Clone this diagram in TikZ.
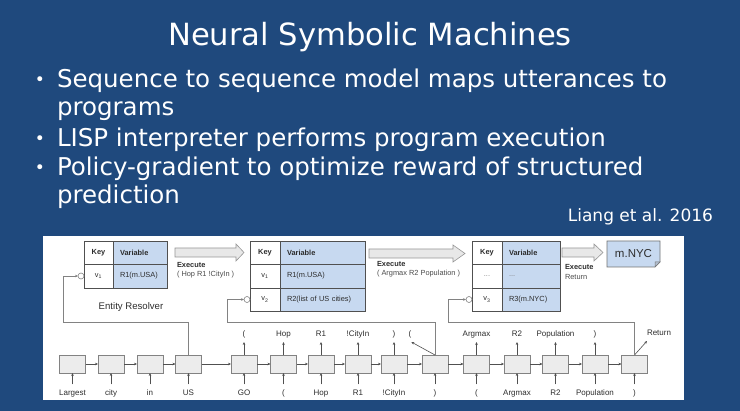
\documentclass[tikz,border=0pt]{standalone}
\usepackage{fontspec}
\setmainfont{DejaVu Sans}
\newfontfamily\arialf{Liberation Sans}
\usetikzlibrary{arrows.meta}
\definecolor{bg}{RGB}{31,73,125}
\definecolor{cellblue}{RGB}{199,217,240}
\definecolor{gridc}{RGB}{80,80,80}
\definecolor{nodefill}{RGB}{236,236,236}
\definecolor{nodeedge}{RGB}{130,130,130}
\definecolor{txt}{RGB}{45,45,45}
\definecolor{arrfill}{RGB}{232,232,232}
\definecolor{arredge}{RGB}{150,150,150}
\begin{document}
\begin{tikzpicture}[x=1pt,y=-1pt,
  every node/.style={inner sep=0pt, outer sep=0pt},
  tfont/.style={font=\arialf\fontsize{7.4}{8}\selectfont, text=txt},
  hfont/.style={font=\arialf\bfseries\fontsize{7.4}{8}\selectfont},
  kcell/.style={draw=gridc, fill=white, line width=0.6pt, tfont, minimum width=#1, minimum height=23pt},
  vcell/.style={draw=gridc, fill=cellblue, line width=0.6pt, tfont, align=left, inner xsep=7pt, text width=#1-14pt, minimum height=23pt},
  portc/.style={circle, draw=nodeedge, fill=white, line width=0.6pt, minimum size=6pt},
  seqbox/.style={draw=nodeedge, fill=nodefill, line width=0.6pt, minimum width=26pt, minimum height=18pt},
  lblin/.style={font=\arialf\fontsize{8}{9}\selectfont, text=txt, text height=6pt, text depth=2pt, inner ysep=5.5pt, anchor=base},
  lblout/.style={font=\arialf\fontsize{8}{9}\selectfont, text=txt, text height=6pt, text depth=2pt, inner ysep=3pt, anchor=base},
  arr/.style={-{Stealth[length=3pt,width=2.6pt]}, draw=gridc, line width=0.6pt},
  loopln/.style={-{Stealth[length=3pt,width=2.6pt]}, draw=nodeedge, line width=0.7pt},
  blockarrow/.style={fill=arrfill, draw=arredge, line width=0.6pt},
  exfont/.style={font=\arialf\bfseries\fontsize{7.4}{8}\selectfont, text=txt, anchor=west},
  exsub/.style={font=\arialf\fontsize{7.4}{8}\selectfont, text=txt!85, anchor=west},
  bullettxt/.style={font=\fontsize{24.5}{28}\selectfont, text=white, anchor=base west},
  bulletdot/.style={font=\fontsize{17}{20}\selectfont, text=white, anchor=base}
]
\useasboundingbox (0,0) rectangle (740,411);
\fill[bg] (0,0) rectangle (740,411);

% title and bullets
\node[font=\fontsize{30.6}{36}\selectfont, text=white, anchor=base] (title) at (370,46) {Neural Symbolic Machines};
\node[bulletdot] (b1) at (40,86) {•};
\node[bullettxt] (t1) at (57,88) {Sequence to sequence model maps utterances to};
\node[bullettxt] (t1b) at (57,116) {programs};
\node[bulletdot] (b2) at (40,145) {•};
\node[bullettxt] (t2) at (57,147) {LISP interpreter performs program execution};
\node[bulletdot] (b3) at (40,174) {•};
\node[bullettxt] (t3) at (57,176) {Policy-gradient to optimize reward of structured};
\node[bullettxt] (t3b) at (57,204) {prediction};
\node[font=\fontsize{17}{20}\selectfont, text=white, anchor=base east] (cite) at (713,222) {Liang et al. 2016};

% white panel
\fill[white] (43,236) rectangle (684,400);

% block arrows
\draw[blockarrow] (175,248) -- (236,248) -- (236,244) -- (244,252.5) -- (236,261) -- (236,257) -- (175,257) -- cycle;
\draw[blockarrow] (369,249) -- (453,249) -- (453,245) -- (465,253.5) -- (453,262) -- (453,258) -- (369,258) -- cycle;
\draw[blockarrow] (562,248) -- (594,248) -- (594,244) -- (603,252.5) -- (594,261) -- (594,257) -- (562,257) -- cycle;

\node[exfont] (e1a) at (177,265) {Execute};
\node[exsub] (e1b) at (177,275) {( Hop R1 !CityIn )};
\node[exfont] (e2a) at (377,264) {Execute};
\node[exsub] (e2b) at (377,274) {( Argmax R2 Population )};
\node[exfont] (e3a) at (565,267) {Execute};
\node[exsub] (e3b) at (565,277) {Return};

% result box
\node[font=\arialf\fontsize{11.5}{13}\selectfont, text=txt, minimum width=53pt, minimum height=26pt] (res) at (633.5,254) {m.NYC};
\draw[fill=cellblue, draw=gridc!80, line width=0.6pt] (res.north west) -- (res.north east) -- ([yshift=5pt]res.south east) -- ([xshift=-5pt]res.south east) -- (res.south west) -- cycle;
\draw[fill=cellblue!70!gray, draw=gridc!80, line width=0.5pt] ([yshift=5pt]res.south east) -- ([xshift=-5pt,yshift=5pt]res.south east) -- ([xshift=-5pt]res.south east) -- cycle;
\node[font=\arialf\fontsize{11.5}{13}\selectfont, text=txt] at (res) {m.NYC};

% table 1
\node[kcell=29pt, hfont] (t1k0) at (98.5,252.5) {Key};
\node[vcell=54pt, hfont] (t1v0) at (140,252.5) {Variable};
\node[kcell=29pt, minimum height=24pt] (t1k1) at (98.5,276) {v\textsubscript{1}};
\node[vcell=54pt, minimum height=24pt] (t1v1) at (140,276) {R1(m.USA)};
% table 2
\node[kcell=30pt, hfont] (t2k0) at (265,252.5) {Key};
\node[vcell=85pt, hfont] (t2v0) at (322.5,252.5) {Variable};
\node[kcell=30pt, minimum height=24pt] (t2k1) at (265,276) {v\textsubscript{1}};
\node[vcell=85pt, minimum height=24pt] (t2v1) at (322.5,276) {R1(m.USA)};
\node[kcell=30pt] (t2k2) at (265,299.5) {v\textsubscript{2}};
\node[vcell=85pt] (t2v2) at (322.5,299.5) {R2(list of US cities)};
% table 3
\node[kcell=30pt, hfont] (t3k0) at (487,252.5) {Key};
\node[vcell=58pt, hfont] (t3v0) at (531,252.5) {Variable};
\node[kcell=30pt, minimum height=24pt, text=gray] (t3k1) at (487,276) {...};
\node[vcell=58pt, minimum height=24pt, text=gray] (t3v1) at (531,276) {...};
\node[kcell=30pt] (t3k2) at (487,299.5) {v\textsubscript{3}};
\node[vcell=58pt] (t3v2) at (531,299.5) {R3(m.NYC)};

\node[portc] (c1) at (81,276) {};
\node[portc] (c2) at (247,299.5) {};
\node[portc] (c3) at (469,299.5) {};

\node[font=\arialf\fontsize{9.6}{11}\selectfont, text=txt] (er) at (131,307) {Entity Resolver};

% sequence boxes
\foreach \i/\x in {1/72.5,2/111,3/150,4/188.5,5/244,6/283.5,7/321,8/358,9/394,10/435,11/476.5,12/517,13/555.5,14/595,15/634.5}
  \node[seqbox] (n\i) at (\x,364) {};
\foreach \a/\b in {1/2,2/3,3/4,4/5,5/6,6/7,7/8,8/9,9/10,10/11,11/12,12/13,13/14,14/15}
  \draw[arr] (n\a) -- (n\b);

% inputs
\foreach \i/\t in {1/Largest,2/city,3/in,4/US,5/GO,6/(,7/Hop,8/R1,9/!CityIn,10/),11/(,12/Argmax,13/R2,14/Population,15/)}{
  \node[lblin] (in\i) at ([yshift=-32pt]n\i.south |- 0,364) {\t};
  \draw[arr] (in\i) -- (n\i);
}
% outputs
\foreach \i/\t in {5/(,6/Hop,7/R1,8/!CityIn,9/),11/Argmax,12/R2,13/Population,14/)}{
  \node[lblout] (out\i) at ([yshift=27pt]n\i.north |- 0,364) {\t};
  \draw[arr] (n\i) -- (out\i);
}
\node[lblout] (out10) at (410,337) {(};
\draw[arr] (n10.north) -- (out10.south east);
\node[lblout, anchor=base west] (out15) at (647,336) {Return};
\draw[arr] (n15.north) -- (out15.south west);

% feedback loops
\coordinate (k1) at (63,322);
\coordinate (k2) at (227,322);
\coordinate (k3) at (448,322);
\draw[loopln] (n4.north) |- (k1) |- (c1.west);
\draw[loopln] (n10.north) |- (k2) |- (c2.west);
\draw[loopln] (n15.north) |- (k3) |- (c3.west);
\end{tikzpicture}
\end{document}
